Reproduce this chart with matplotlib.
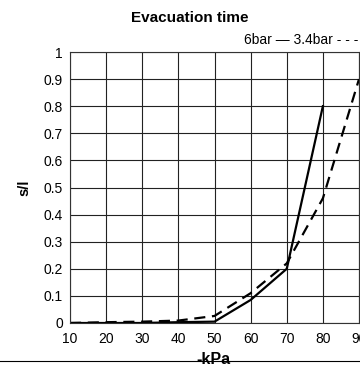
import matplotlib.pyplot as plt
from matplotlib.lines import Line2D

plt.rcParams['font.family'] = ['Liberation Sans', 'DejaVu Sans']

# Данные
kpa_6bar = [10, 20, 30, 40, 50, 60, 70, 80]
time_6bar = [0.0, 0.0, 0.0, 0.003, 0.005, 0.085, 0.2, 0.8]
kpa_34bar = [10, 20, 30, 40, 50, 60, 70, 80, 90]
time_34bar = [0.0, 0.003, 0.005, 0.009, 0.026, 0.11, 0.22, 0.46, 0.9]
x_ticks = [10, 20, 30, 40, 50, 60, 70, 80, 90]
y_ticks = [0, 0.1, 0.2, 0.3, 0.4, 0.5, 0.6, 0.7, 0.8, 0.9, 1]
y_labels = ['0', '0.1', '0.2', '0.3', '0.4', '0.5', '0.6', '0.7', '0.8', '0.9', '1']

fig = plt.figure(figsize=(3.6, 3.69), dpi=100)
ax = fig.add_axes([70 / 360, 1 - 323 / 369, 289 / 360, 271 / 369])

ax.plot(kpa_6bar, time_6bar, color='black', lw=1.6, solid_joinstyle='miter')
ax.plot(kpa_34bar, time_34bar, color='black', lw=1.6, dashes=(5, 3))

ax.set_xlim(10, 90)
ax.set_ylim(0, 1)
ax.set_xticks(x_ticks)
ax.set_yticks(y_ticks)
ax.set_yticklabels(y_labels)
ax.tick_params(length=0, labelsize=10)
ax.tick_params(axis='x', pad=6.5)
ax.tick_params(axis='y', pad=5)
ax.grid(True, color='#222222', lw=0.8)
for s in ax.spines.values():
    s.set_color('#333333')
    s.set_linewidth(0.8)

ax.set_ylabel('s/l', fontweight='bold', fontsize=10.5, labelpad=9)

fig.text(190 / 360, 1 - 17.5 / 369, 'Evacuation time', ha='center', va='center',
         fontweight='bold', fontsize=11)
fig.text(358 / 360, 1 - 40 / 369, '6bar \u2014 3.4bar - - -', ha='right', va='center',
         fontsize=10)

# Линия внизу и подпись оси X
fig.add_artist(Line2D([0, 1], [1 - 360.5 / 369, 1 - 360.5 / 369], color='black', lw=0.8))
fig.text(213 / 360, 1 - 363.5 / 369, '-kPa', ha='center', va='baseline',
         fontweight='bold', fontsize=11.5)

fig.savefig('out.png', dpi=100)
